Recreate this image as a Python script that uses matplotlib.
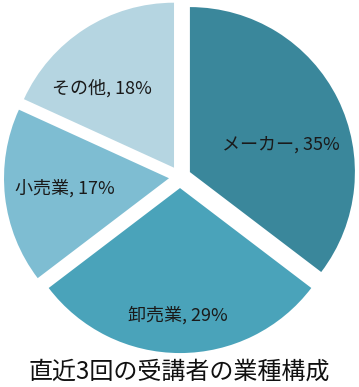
import matplotlib
matplotlib.use("Agg")
import matplotlib.pyplot as plt

plt.rcParams['font.family'] = ['Noto Sans CJK JP', 'DejaVu Sans']

categories = ["メーカー", "卸売業", "小売業", "その他"]
values = [35, 29, 17, 18]
title = "直近3回の受講者の業種構成"

colors = ["#3A879B", "#4AA3BA", "#7EBDD2", "#B5D5E1"]
# label centers in data coords (radius units)
label_pos = [(0.612, 0.194), (-0.012, -0.836), (-0.697, -0.067), (-0.473, 0.539)]

fig = plt.figure(figsize=(3.59, 3.87), dpi=100)
W, H = 359, 387
cx, cy, R = 180, 177, 165
lim = 1.1
ax = fig.add_axes([(cx - R * lim) / W, (H - cy - R * lim) / H, 2 * R * lim / W, 2 * R * lim / H])
wedges, _ = ax.pie(values, colors=colors, startangle=90, counterclock=False,
                   explode=[0.067] * len(values), radius=1.0,
                   wedgeprops=dict(linewidth=0))
ax.set_xlim(-lim, lim)
ax.set_ylim(-lim, lim)
ax.set_aspect('equal')
ax.axis('off')

for (x, y), c, v in zip(label_pos, categories, values):
    ax.text(x, y, f"{c}, {v}%", ha='center', va='center', fontsize=13, color='#1a1a1a')

fig.text(0.5, 1 - 372 / H, title, ha='center', va='center', fontsize=17.3, color='#111111')

fig.savefig("out.png", dpi=100)
